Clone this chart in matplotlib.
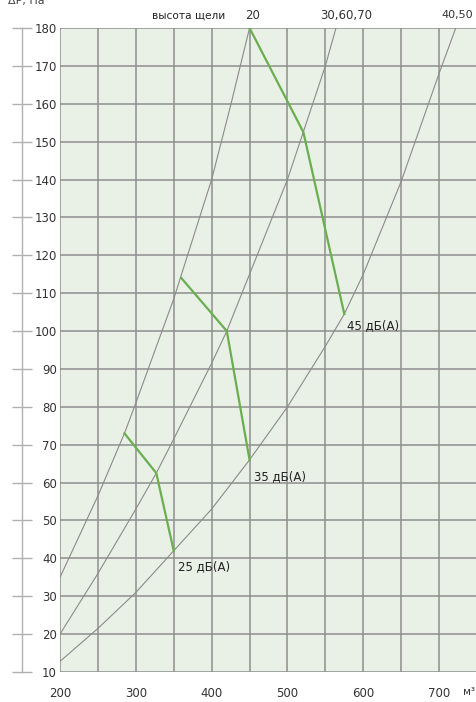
import numpy as np
import matplotlib.pyplot as plt

# system curves for the slot heights (flow m3/h -> pressure drop Pa)
curve_20_x = [200, 250, 285, 300, 350, 400, 425, 450]
curve_20_y = [35, 56.5, 73, 81, 108.5, 140, 159.5, 180]
curve_30_x = [200, 250, 300, 327, 350, 400, 420, 450, 500, 520, 550, 564]
curve_30_y = [20, 36, 53, 62.5, 71.5, 91.5, 100, 115, 140, 152, 170, 180]
curve_40_x = [200, 250, 300, 350, 400, 450, 500, 550, 575, 600, 650, 700, 722]
curve_40_y = [12.8, 21.5, 31, 42, 53, 66, 80, 96, 104.5, 115, 139.5, 168, 180]
curve_names = ['20', '30,60,70', '40,50']

# noise level lines
n25_x = [285, 327, 350]
n25_y = [73, 62.5, 42]
n35_x = [360, 420, 450]
n35_y = [114, 100, 66]
n45_x = [450, 521, 575]
n45_y = [180, 152.5, 104.5]
noise_names = ['25 дБ(А)', '35 дБ(А)', '45 дБ(А)']

x_ticks = [200, 300, 400, 500, 600, 700]
y_ticks = list(range(10, 190, 10))

W, H = 477, 702
fig = plt.figure(figsize=(W / 100, H / 100), dpi=100)
ax = fig.add_axes([60 / W, 30 / H, 417 / W, 644 / H])
ax.set_facecolor('#e9f1e7')
ax.set_xlim(200, 750)
ax.set_ylim(10, 180)

gcol = '#8e8e8e'
ax.set_xticks(x_ticks)
ax.set_xticks([250, 350, 450, 550, 650, 750], minor=True)
ax.set_yticks(y_ticks)
ax.grid(True, which='both', color=gcol, lw=1.1)
ax.set_axisbelow(True)

for s in ['top', 'right', 'bottom']:
    ax.spines[s].set_visible(False)
ax.spines['left'].set_position(('outward', 27.4))
ax.spines['left'].set_color('#b0b0b0')
ax.spines['left'].set_linewidth(1.0)

ax.tick_params(axis='x', which='both', length=0, pad=10.5, labelsize=8.5, labelcolor='#333333')
ax.tick_params(axis='y', direction='inout', length=14.4, width=1.0, color='#b0b0b0',
               pad=-32.4, labelsize=8.5, labelcolor='#333333')
for lab in ax.get_yticklabels():
    lab.set_horizontalalignment('right')

# gray curves
ccol = '#8a8a8a'
ax.plot(curve_20_x, curve_20_y, color=ccol, lw=0.8)
ax.plot(curve_30_x, curve_30_y, color=ccol, lw=0.8)
ax.plot(curve_40_x, curve_40_y, color=ccol, lw=0.8)

# green noise lines
green = '#6aae50'
ax.plot(n25_x, n25_y, color=green, lw=1.6, solid_joinstyle='miter')
ax.plot(n35_x, n35_y, color=green, lw=1.6, solid_joinstyle='miter')
ax.plot(n45_x, n45_y, color=green, lw=1.6, solid_joinstyle='miter')

ax.text(355, 37.7, noise_names[0], fontsize=8.5, color='#222222', va='center')
ax.text(456, 61.5, noise_names[1], fontsize=8.5, color='#222222', va='center')
ax.text(578, 101.4, noise_names[2], fontsize=8.5, color='#222222', va='center')

# labels above the chart
ax.text(369, 183.3, 'высота щели', fontsize=7.6, color='#222222', ha='center', va='center', clip_on=False)
ax.text(454, 183.3, curve_names[0], fontsize=8.5, color='#333333', ha='center', va='center', clip_on=False)
ax.text(578, 183.3, curve_names[1], fontsize=8.5, color='#333333', ha='center', va='center', clip_on=False)
ax.text(745, 183.3, curve_names[2], fontsize=8, color='#333333', ha='right', va='center', clip_on=False)

ax.text(732, 4.8, 'м³', fontsize=7.5, color='#333333', va='center', clip_on=False)
fig.text(8 / W, 1 - 4 / H, 'ΔP, Па', fontsize=8, color='#444444', va='baseline')

fig.savefig('out.png', dpi=100)
